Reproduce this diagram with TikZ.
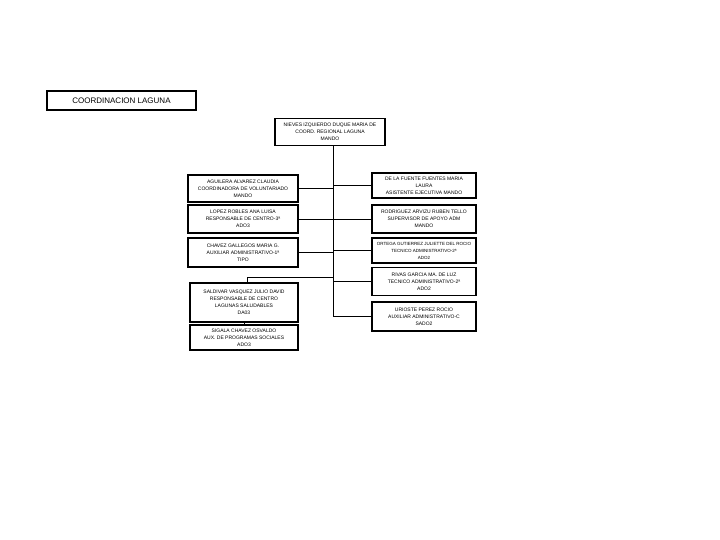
\documentclass[tikz,border=0pt]{standalone}
\usepackage{fontspec}
\setmainfont{Liberation Sans}
\begin{document}
\begin{tikzpicture}[x=1pt,y=-1pt,
  emp/.style={draw=black,line width=1.3pt,fill=white,align=center,inner sep=1pt,
    font=\fontsize{5}{7}\selectfont},
  title/.style={draw=black,line width=1.8pt,fill=white,align=center,
    font=\fontsize{8}{9}\selectfont,minimum width=149pt,minimum height=19pt},
  link/.style={draw=black,line width=0.9pt}]
\useasboundingbox (0,0) rectangle (720,540);
\node[title] (coord) at (121.5,100.5) {COORDINACION LAGUNA};
\node[emp,minimum width=110pt,minimum height=27pt] (top) at (330,132)
  {NIEVES IZQUIERDO DUQUE MARIA DE\\COORD. REGIONAL LAGUNA\\MANDO};
% left column
\node[emp,minimum width=110pt,minimum height=27pt] (l1) at (243,188.5)
  {AGUILERA ALVAREZ CLAUDIA\\COORDINADORA DE VOLUNTARIADO\\MANDO};
\node[emp,minimum width=110pt,minimum height=28pt] (l2) at (243,219)
  {LOPEZ ROBLES ANA LUISA\\RESPONSABLE DE CENTRO-3ª\\ADO3};
\node[emp,minimum width=110pt,minimum height=29pt] (l3) at (243,252.5)
  {CHAVEZ GALLEGOS MARIA G.\\AUXILIAR ADMINISTRATIVO-1ª\\TIPO};
\node[emp,minimum width=108pt,minimum height=39pt] (l4) at (244,302.5)
  {SALDIVAR VASQUEZ JULIO DAVID\\RESPONSABLE DE CENTRO\\LAGUNAS SALUDABLES\\DA03};
\node[emp,minimum width=108pt,minimum height=25pt] (l5) at (244,337.5)
  {SIGALA CHAVEZ OSVALDO\\AUX. DE PROGRAMAS SOCIALES\\ADO3};
% right column
\node[emp,minimum width=104pt,minimum height=25pt] (r1) at (424,185.5)
  {DE LA FUENTE FUENTES MARIA\\LAURA\\ASISTENTE EJECUTIVA MANDO};
\node[emp,minimum width=104pt,minimum height=28pt] (r2) at (424,219)
  {RODRIGUEZ ARVIZU RUBEN TELLO\\SUPERVISOR DE APOYO ADM\\MANDO};
\node[emp,minimum width=104pt,minimum height=25pt,font=\fontsize{4.5}{7}\selectfont] (r3) at (424,250.5)
  {ORTEGA GUTIERREZ JULIETTE DEL ROCIO\\TECNICO ADMINISTRATIVO-2ª\\ADO2};
\node[emp,minimum width=104pt,minimum height=28pt] (r4) at (424,281.5)
  {RIVAS GARCIA MA. DE LUZ\\TECNICO ADMINISTRATIVO-2ª\\ADO2};
\node[emp,minimum width=104pt,minimum height=29pt] (r5) at (424,316.5)
  {URIOSTE PEREZ ROCIO\\AUXILIAR ADMINISTRATIVO-C\\SADO2};
% trunk
\coordinate (tb) at (333,316.5);
\coordinate (lj) at (333,277);
\coordinate (lk) at (247,277);
\draw[link] (top.south -| tb) -- (tb);
\foreach \n in {l1,l2,l3} \draw[link] (\n.east) -- (\n.east -| tb);
\foreach \n in {r1,r2,r3,r4,r5} \draw[link] (\n.west -| tb) -- (\n.west);
\draw[link] (lj) -- (lk) -- (lk |- l4.north);
\draw[link] (l4.south) -- (l5.north);
\end{tikzpicture}
\end{document}
